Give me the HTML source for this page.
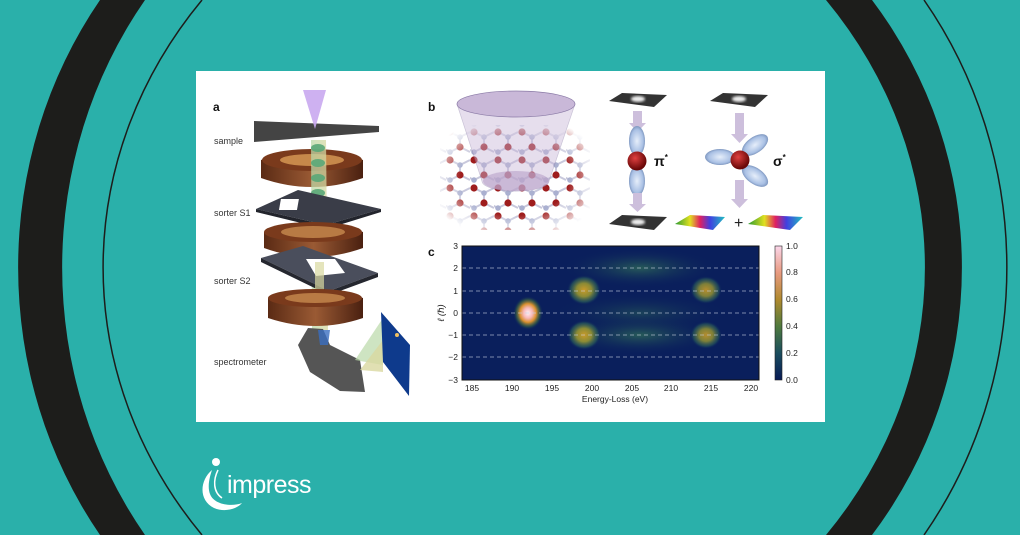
<!DOCTYPE html>
<html><head><meta charset="utf-8"><style>
html,body{margin:0;padding:0;background:#2ab0aa;}
svg{display:block}
text{font-family:"Liberation Sans","DejaVu Sans",sans-serif}
</style></head><body>
<svg width="1020" height="535" viewBox="0 0 1020 535" xmlns="http://www.w3.org/2000/svg">
<defs>
<radialGradient id="red" cx="40%" cy="35%" r="60%"><stop offset="0" stop-color="#e04040"/><stop offset="1" stop-color="#6a0808"/></radialGradient>
<radialGradient id="lobe" cx="50%" cy="50%" r="55%"><stop offset="0" stop-color="#e6eefa"/><stop offset="0.7" stop-color="#a9c0e4"/><stop offset="1" stop-color="#6d86b0"/></radialGradient>
<radialGradient id="b0" cx="50%" cy="50%" r="50%"><stop offset="0" stop-color="#fff0f6"/><stop offset="0.3" stop-color="#f7b8b8"/><stop offset="0.55" stop-color="#d9902e"/><stop offset="0.8" stop-color="#3f6a40" stop-opacity="0.6"/><stop offset="1" stop-color="#0a1f5c" stop-opacity="0"/></radialGradient>
<radialGradient id="b1" cx="50%" cy="50%" r="50%"><stop offset="0" stop-color="#c99a2a"/><stop offset="0.45" stop-color="#8a8a35"/><stop offset="0.8" stop-color="#2f6458" stop-opacity="0.6"/><stop offset="1" stop-color="#0a1f5c" stop-opacity="0"/></radialGradient>
<radialGradient id="b2" cx="50%" cy="50%" r="50%"><stop offset="0" stop-color="#2f6a58" stop-opacity="0.8"/><stop offset="1" stop-color="#0a1f5c" stop-opacity="0"/></radialGradient>
<linearGradient id="cb" x1="0" y1="1" x2="0" y2="0"><stop offset="0" stop-color="#071a55"/><stop offset="0.2" stop-color="#1a4d5e"/><stop offset="0.4" stop-color="#4f7a3e"/><stop offset="0.6" stop-color="#b08a2e"/><stop offset="0.8" stop-color="#e89a80"/><stop offset="1" stop-color="#fbd6ea"/></linearGradient>
<linearGradient id="rainbow" x1="0" y1="0" x2="1" y2="0"><stop offset="0" stop-color="#2a9a30"/><stop offset="0.3" stop-color="#e0e020"/><stop offset="0.5" stop-color="#e02060"/><stop offset="0.7" stop-color="#4040e0"/><stop offset="1" stop-color="#20c0c0"/></linearGradient>
<linearGradient id="cu" x1="0" y1="0" x2="1" y2="0"><stop offset="0" stop-color="#5a2a14"/><stop offset="0.5" stop-color="#9a5a34"/><stop offset="1" stop-color="#4a2010"/></linearGradient>
<linearGradient id="beam" x1="0" y1="0" x2="1" y2="0"><stop offset="0" stop-color="#b9d8a8"/><stop offset="1" stop-color="#d9d8a0"/></linearGradient>
<pattern id="lat" width="24" height="28" patternUnits="userSpaceOnUse" x="446" y="128">
<g stroke="#c8c8dc" stroke-width="2" fill="none"><path d="M4,4 L14,9 L14,19 L4,24 M14,9 L24,4 M14,19 L24,24 M4,24 L-6,19"/></g>
<circle cx="4" cy="4" r="3.6" fill="#9e1c1c"/><circle cx="14" cy="19" r="3.6" fill="#9e1c1c"/>
<circle cx="14" cy="9" r="2.8" fill="#aab0d0"/><circle cx="4" cy="24" r="2.8" fill="#aab0d0"/>
</pattern>
<radialGradient id="fade" cx="50%" cy="50%" r="60%"><stop offset="0.6" stop-color="#fff"/><stop offset="1" stop-color="#000"/></radialGradient>
<mask id="lm"><rect x="440" y="125" width="150" height="105" fill="url(#fade)"/></mask>
<filter id="bl"><feGaussianBlur stdDeviation="1.2"/></filter>
</defs>

<rect width="1020" height="535" fill="#2ab0aa"/>
<path d="M100,0 A418,450 0 0 0 100,535 L145,535 A423,450 0 0 1 145,0 Z" fill="#1d1d1b"/>
<path d="M202,0 A505,450 0 0 0 202,535" fill="none" stroke="#1d1d1b" stroke-width="1.5"/>
<path d="M872,0 A459,450 0 0 1 872,535 L826,535 A505,450 0 0 0 826,0 Z" fill="#1d1d1b"/>
<path d="M924,0 A423,450 0 0 1 924,535" fill="none" stroke="#1d1d1b" stroke-width="1.5"/>

<rect x="196" y="71" width="629" height="351" fill="#fff"/>

<!-- panel a -->
<text x="213" y="111" font-size="12" font-weight="bold" fill="#111">a</text>
<g font-size="9" fill="#333">
<text x="214" y="144">sample</text><text x="214" y="216">sorter S1</text><text x="214" y="284">sorter S2</text><text x="214" y="365">spectrometer</text></g>
<path d="M261,160 Q312,140 363,160 L363,178 Q312,196 261,178 Z" fill="url(#cu)"/>
<ellipse cx="312" cy="160" rx="50" ry="11" fill="#7a3a1c"/><ellipse cx="312" cy="160" rx="32" ry="6" fill="#c7884a"/>
<polygon points="311,140 326,140 328,330 312,330" fill="url(#beam)" opacity="0.75"/>
<g fill="#5aa878" opacity="0.9"><ellipse cx="318" cy="148" rx="7" ry="4"/><ellipse cx="318" cy="163" rx="7" ry="4"/><ellipse cx="318" cy="178" rx="7" ry="4"/><ellipse cx="318" cy="193" rx="7" ry="4"/></g>
<polygon points="254,121 379,126 379,132 254,142" fill="#444"/>
<polygon points="303,90 326,90 315,129" fill="#c9a8f0" opacity="0.9"/>
<polygon points="256,209 298,190 381,209 326,225" fill="#3a3d48"/>
<polygon points="256,209 326,225 381,209 381,212 326,229 256,212" fill="#22242c"/>
<rect x="316" y="199" width="18" height="11" fill="#fff" transform="skewX(-10)"/>
<path d="M264,232 Q313,214 363,232 L363,248 Q313,266 264,248 Z" fill="url(#cu)"/>
<ellipse cx="313" cy="232" rx="49" ry="10" fill="#7a3a1c"/><ellipse cx="313" cy="232" rx="32" ry="6" fill="#b87a44"/>
<polygon points="261,258 303,246 378,273 329,291" fill="#4a4e5c"/>
<polygon points="261,258 329,291 378,273 378,277 329,295 261,262" fill="#25272f"/>
<polygon points="306,259 335,259 345,273 316,276" fill="#fff"/>
<rect x="315" y="262" width="9" height="30" fill="#d9d8a0" opacity="0.7"/>
<path d="M268,298 Q316,282 363,298 L363,318 Q316,334 268,318 Z" fill="url(#cu)"/>
<ellipse cx="315" cy="298" rx="47" ry="9" fill="#7a3a1c"/><ellipse cx="315" cy="298" rx="30" ry="5" fill="#b87a44"/>
<polygon points="308,328 323,329 330,345 360,360 365,392 340,391 310,372 298,345" fill="#555"/>
<polygon points="318,330 330,330 328,345 320,345" fill="#3a6ec0" opacity="0.8"/>
<polygon points="355,360 383,318 383,365" fill="#b9d8a8" opacity="0.7"/>
<polygon points="360,370 383,340 383,372" fill="#d9d8a0" opacity="0.8"/>
<polygon points="381,312 410,345 409,396 383,362" fill="#0e3a8c"/>
<circle cx="397" cy="335" r="2" fill="#f0c060"/>

<!-- panel b -->
<text x="428" y="111" font-size="12" font-weight="bold" fill="#111">b</text>
<rect x="440" y="125" width="150" height="105" fill="url(#lat)" mask="url(#lm)"/>
<path d="M457,104 L482,181 A33,10 0 0 0 549,181 L575,104 Z" fill="#c9b8d8" opacity="0.45" stroke="#8a7aa6" stroke-width="0.7"/>
<ellipse cx="516" cy="104" rx="59" ry="13" fill="#c9b8d8" stroke="#8a7aa6" stroke-width="0.7"/>
<ellipse cx="516" cy="181" rx="33" ry="10" fill="#b8a0c8" opacity="0.6"/>

<polygon points="609,101 622,93 667,95 654,107" fill="#333"/><ellipse cx="638" cy="99" rx="7" ry="3" fill="#eee" filter="url(#bl)"/>
<rect x="633" y="111" width="9" height="12" fill="#cdbfdc"/><polygon points="629,123 646,123 637.5,132" fill="#cdbfdc"/>
<ellipse cx="637" cy="141" rx="8" ry="15" fill="url(#lobe)"/><ellipse cx="637" cy="181" rx="8" ry="15" fill="url(#lobe)"/>
<circle cx="637" cy="161" r="9.5" fill="url(#red)"/>
<text x="654" y="166" font-size="14" font-weight="bold" fill="#111">π<tspan font-size="8" dy="-6">*</tspan></text>
<rect x="633" y="193" width="9" height="11" fill="#cdbfdc"/><polygon points="629,204 646,204 637.5,212" fill="#cdbfdc"/>
<polygon points="609,224 622,215 667,217 654,230" fill="#333"/><ellipse cx="638" cy="222" rx="7" ry="3" fill="#eee" filter="url(#bl)"/>

<polygon points="710,101 723,93 768,95 755,107" fill="#333"/><ellipse cx="739" cy="99" rx="7" ry="3" fill="#eee" filter="url(#bl)"/>
<rect x="735" y="113" width="9" height="22" fill="#cdbfdc"/><polygon points="731,134 748,134 739.5,143" fill="#cdbfdc"/>
<ellipse cx="720" cy="157" rx="15" ry="8" fill="url(#lobe)"/>
<ellipse cx="755" cy="145" rx="15" ry="8" fill="url(#lobe)" transform="rotate(-35 755 145)"/>
<ellipse cx="755" cy="176" rx="15" ry="8" fill="url(#lobe)" transform="rotate(35 755 176)"/>
<circle cx="740" cy="160" r="9.5" fill="url(#red)"/>
<text x="773" y="166" font-size="14" font-weight="bold" fill="#111">σ<tspan font-size="8" dy="-6">*</tspan></text>
<rect x="735" y="180" width="9" height="20" fill="#cdbfdc"/><polygon points="731,199 748,199 739.5,208" fill="#cdbfdc"/>
<polygon points="675,224 690,215 725,217 713,230" fill="url(#rainbow)"/>
<polygon points="748,224 763,215 803,217 790,230" fill="url(#rainbow)"/>
<text x="734" y="228" font-size="16" fill="#222">+</text>

<!-- panel c -->
<text x="428" y="256" font-size="12" font-weight="bold" fill="#111">c</text>
<rect x="462" y="246" width="297" height="134" fill="#0a1f5c"/>
<ellipse cx="640" cy="268" rx="80" ry="20" fill="url(#b2)"/>
<ellipse cx="640" cy="313" rx="90" ry="20" fill="url(#b2)" opacity="0.6"/>
<ellipse cx="640" cy="335" rx="80" ry="20" fill="url(#b2)"/>
<ellipse cx="584" cy="290" rx="17" ry="15" fill="url(#b1)"/>
<ellipse cx="584" cy="335" rx="17" ry="15" fill="url(#b1)"/>
<ellipse cx="706" cy="290" rx="16" ry="14" fill="url(#b1)" opacity="0.9"/>
<ellipse cx="706" cy="335" rx="16" ry="14" fill="url(#b1)" opacity="0.9"/>
<ellipse cx="528" cy="313" rx="15" ry="17" fill="url(#b0)"/>
<g stroke="#c8d0e0" stroke-width="0.8" stroke-dasharray="4,3" opacity="0.8">
<line x1="462" y1="268" x2="759" y2="268"/><line x1="462" y1="291" x2="759" y2="291"/><line x1="462" y1="313" x2="759" y2="313"/><line x1="462" y1="335" x2="759" y2="335"/><line x1="462" y1="357" x2="759" y2="357"/></g>
<rect x="462" y="246" width="297" height="134" fill="none" stroke="#111" stroke-width="1"/>
<g font-size="8.5" fill="#222" text-anchor="end">
<text x="458" y="249">3</text><text x="458" y="271">2</text><text x="458" y="294">1</text><text x="458" y="316">0</text><text x="458" y="338">−1</text><text x="458" y="360">−2</text><text x="458" y="383">−3</text></g>
<g font-size="8.5" fill="#222" text-anchor="middle">
<text x="472" y="391">185</text><text x="512" y="391">190</text><text x="552" y="391">195</text><text x="592" y="391">200</text><text x="632" y="391">205</text><text x="671" y="391">210</text><text x="711" y="391">215</text><text x="751" y="391">220</text></g>
<text x="615" y="402" font-size="8.5" fill="#222" text-anchor="middle">Energy-Loss (eV)</text>
<text transform="translate(444,313) rotate(-90)" font-size="9" fill="#222" text-anchor="middle" font-style="italic">ℓ (ℏ)</text>
<rect x="775" y="246" width="7" height="134" fill="url(#cb)" stroke="#222" stroke-width="0.6"/>
<g font-size="8.5" fill="#222">
<text x="786" y="249">1.0</text><text x="786" y="275">0.8</text><text x="786" y="302">0.6</text><text x="786" y="329">0.4</text><text x="786" y="356">0.2</text><text x="786" y="383">0.0</text></g>

<!-- logo -->
<circle cx="216" cy="462" r="4" fill="#fff"/>
<path d="M212,470 C200,480 198,500 214,508 C226,513 238,508 242,503 C232,507 214,505 210,494 C207,486 210,476 212,470 Z" fill="#fff"/>
<path d="M218,470 C213,480 213,492 222,498" fill="none" stroke="#fff" stroke-width="1.5"/>
<text x="227" y="493" font-size="25" fill="#fff" letter-spacing="-0.5">impress</text>
</svg>
</body></html>
